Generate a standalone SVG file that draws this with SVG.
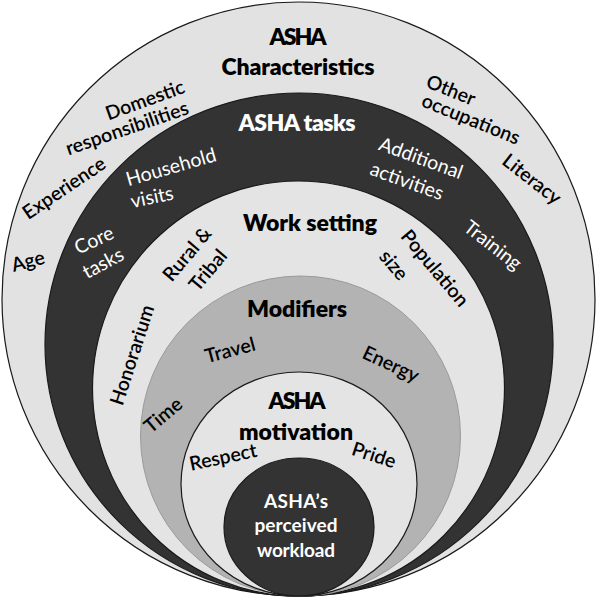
<svg xmlns="http://www.w3.org/2000/svg" width="597" height="598" viewBox="0 0 597 598">
<style>
.t{font-family:Lato,"Open Sans","Liberation Sans",sans-serif;text-anchor:middle}
.b{font-weight:bold}
.w{fill:#ffffff}
.k{fill:#000000;font-weight:600}
.l{font-size:19.5px}
.h{font-size:23px;font-weight:800}
.ring{stroke:#1a1a1a;stroke-width:1.2}
</style>
<rect width="597" height="598" fill="#ffffff"/>
<g id="characteristics">
<ellipse class="ring" cx="298.5" cy="299" rx="296.5" ry="297" fill="#e2e2e2" stroke-width="1.6"/>
<text class="t h k" x="298" y="45" textLength="57">ASHA</text>
<text class="t h k" x="298" y="75" textLength="153">Characteristics</text>
<text class="t l k" transform="translate(145,100) rotate(-20)" dy="0.35em">Domestic</text>
<text class="t l k" transform="translate(127,128) rotate(-19)" dy="0.35em">responsibilities</text>
<text class="t l k" transform="translate(451,90) rotate(22)" dy="0.35em">Other</text>
<text class="t l k" transform="translate(471,119) rotate(22)" dy="0.35em">occupations</text>
<text class="t l k" transform="translate(64,188) rotate(-34)" dy="0.35em">Experience</text>
<text class="t l k" transform="translate(28,261) rotate(-15)" dy="0.35em">Age</text>
<text class="t l k" transform="translate(532,179) rotate(38)" dy="0.35em">Literacy</text>
</g>
<g id="tasks">
<ellipse class="ring" cx="299" cy="344.5" rx="254" ry="251.5" fill="#333333"/>
<text class="t h w" x="297" y="131" textLength="117">ASHA tasks</text>
<text class="t l w" transform="translate(171,167) rotate(-16)" dy="0.35em">Household</text>
<text class="t l w" transform="translate(152,197) rotate(-12)" dy="0.35em">visits</text>
<text class="t l w" transform="translate(421,158) rotate(20)" dy="0.35em">Additional</text>
<text class="t l w" transform="translate(407,181) rotate(20)" dy="0.35em">activities</text>
<text class="t l w" transform="translate(94,240) rotate(-25)" dy="0.35em">Core</text>
<text class="t l w" transform="translate(103,263) rotate(-28)" dy="0.35em">tasks</text>
<text class="t l w" transform="translate(493,245) rotate(38)" dy="0.35em">Training</text>
</g>
<g id="work-setting">
<ellipse class="ring" cx="298.5" cy="388.5" rx="206" ry="207.5" fill="#e4e4e4"/>
<text class="t h k" x="310" y="231" textLength="134">Work setting</text>
<text class="t l k" transform="translate(187,254) rotate(-50)" dy="0.35em">Rural &amp;</text>
<text class="t l k" transform="translate(208,270) rotate(-50)" dy="0.35em">Tribal</text>
<text class="t l k" transform="translate(435,268) rotate(50)" dy="0.35em">Population</text>
<text class="t l k" transform="translate(394,265) rotate(50)" dy="0.35em">size</text>
<text class="t l k" transform="translate(132,355) rotate(-72)" dy="0.35em">Honorarium</text>
</g>
<g id="modifiers">
<ellipse cx="300.5" cy="436" rx="160" ry="160" fill="#b3b3b3" stroke="#9a9a9a" stroke-width="1"/>
<text class="t h k" x="297" y="317" textLength="100">Modifiers</text>
<text class="t l k" transform="translate(230,350) rotate(-15)" dy="0.35em">Travel</text>
<text class="t l k" transform="translate(391,364) rotate(25)" dy="0.35em">Energy</text>
<text class="t l k" transform="translate(163,415) rotate(-40)" dy="0.35em">Time</text>
</g>
<g id="motivation">
<ellipse class="ring" cx="299" cy="484" rx="118" ry="112" fill="#e4e4e4"/>
<text class="t h k" x="297" y="409" textLength="57">ASHA</text>
<text class="t h k" x="296" y="440" textLength="114">motivation</text>
<text class="t l k" transform="translate(223,457) rotate(-12)" dy="0.35em">Respect</text>
<text class="t l k" transform="translate(374,455) rotate(18)" dy="0.35em">Pride</text>
</g>
<g id="workload">
<ellipse class="ring" cx="299" cy="527" rx="75" ry="69" fill="#333333"/>
<text class="t b w" x="296" y="508" font-size="19" textLength="64">ASHA’s</text>
<text class="t b w" x="296" y="532" font-size="19" textLength="83">perceived</text>
<text class="t b w" x="296" y="557" font-size="19" textLength="78">workload</text>
</g>
<g id="connectors"></g>
</svg>
